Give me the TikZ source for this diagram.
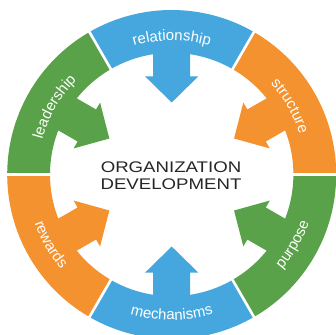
\documentclass[tikz,border=0pt]{standalone}
\usepackage{fontspec}
\setmainfont{Liberation Sans}
\usepackage{xcolor}
\usetikzlibrary{decorations.text}

\definecolor{odblue}{RGB}{69,167,221}
\definecolor{odorange}{RGB}{244,146,47}
\definecolor{odgreen}{RGB}{90,162,73}
\newcommand{\ringfont}{\fontsize{15}{18}\selectfont}

\tikzset{
	toplabel/.style={decorate, decoration={text along path, text align=center, text color=white, text={|\ringfont|#1}}},
	botlabel/.style={toplabel=#1},
}

\begin{document}
\begin{tikzpicture}[x=1pt, y=1pt]
	\useasboundingbox[fill=white] (-171.7,-159.5) rectangle (164.3,174.5);
	% ring segments with their arrows
	\foreach \ang/\col in {90/odblue, 30/odorange, -30/odgreen, -90/odblue, 210/odorange, 150/odgreen}{
		\fill[\col] (\ang-30:121.7) arc[start angle=\ang-30, end angle=\ang+30, radius=121.7pt] -- (\ang+30:164.5) arc[start angle=\ang+30, end angle=\ang-30, radius=164.5pt] -- cycle;
		\fill[\col, rotate=\ang] (125,18.5) -- (98,18.5) -- (98,26.5) -- (72,0) -- (98,-26.5) -- (98,-18.5) -- (125,-18.5) -- cycle;
	}
	\foreach \ang in {0,60,...,300}
		\draw[white, line width=2.6pt] (\ang:118) -- (\ang:168);
	% labels along the ring
	\path[toplabel=relationship] (130:134) arc[start angle=130, end angle=50, radius=134pt];
	\path[toplabel=structure] (70:134) arc[start angle=70, end angle=-10, radius=134pt];
	\path[toplabel=leadership] (190:134) arc[start angle=190, end angle=110, radius=134pt];
	\path[botlabel=purpose] (-70:145.5) arc[start angle=-70, end angle=10, radius=145.5pt];
	\path[botlabel=mechanisms] (-130:145.5) arc[start angle=-130, end angle=-50, radius=145.5pt];
	\path[botlabel=rewards] (170:145.5) arc[start angle=170, end angle=250, radius=145.5pt];
	\node[font=\fontsize{15.4}{16.6}\selectfont, align=center, xscale=1.21, text=black!85] (od) at (-0.7,-1.3) {ORGANIZATION\\DEVELOPMENT};
\end{tikzpicture}
\end{document}
